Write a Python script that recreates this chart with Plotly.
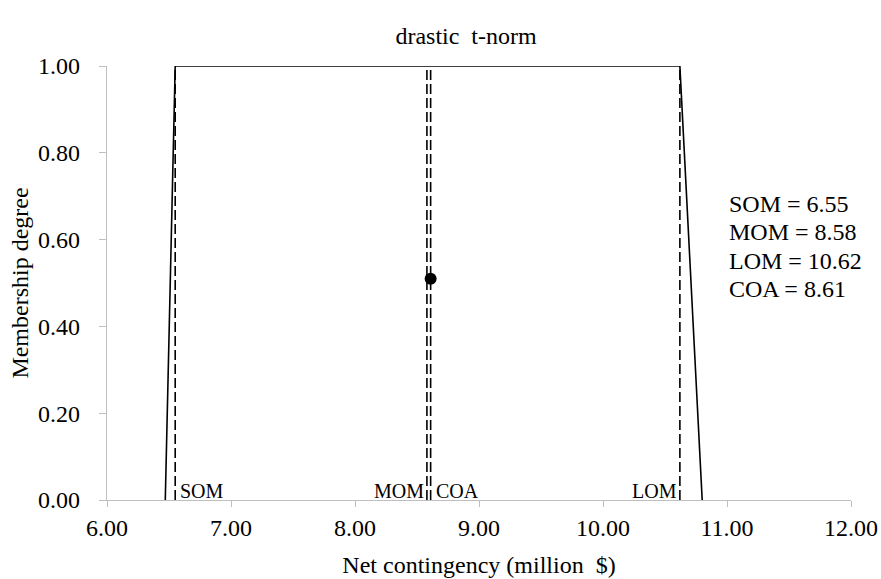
import plotly.graph_objects as go

# membership function (trapezoid) of the aggregated output
mf_x = [6.47, 6.55, 10.62, 10.80]
mf_y = [0.0, 1.0, 1.0, 0.0]

# defuzzified values
labels = ["SOM", "MOM", "COA", "LOM"]
values = [6.55, 8.58, 8.61, 10.62]
coa_point_y = 0.51

x_ticks = [6, 7, 8, 9, 10, 11, 12]
y_ticks = [0, 0.2, 0.4, 0.6, 0.8, 1.0]

FONT = "Times New Roman, Liberation Serif, serif"
AX = "#bfbfbf"

fig = go.Figure()
fig.add_trace(go.Scatter(x=mf_x, y=mf_y, mode="lines",
                         line=dict(color="black", width=1.6), showlegend=False,
                         hoverinfo="skip"))
for lab, v in zip(labels, values):
    fig.add_trace(go.Scatter(x=[v, v], y=[0, 1], mode="lines",
                             line=dict(color="black", width=1.6, dash="10px,4px"),
                             showlegend=False, hoverinfo="skip"))
fig.add_trace(go.Scatter(x=[values[2]], y=[coa_point_y], mode="markers",
                         marker=dict(color="black", size=12), showlegend=False))

anns = []
align = {"SOM": "left", "MOM": "right", "COA": "left", "LOM": "right"}
for lab, v in zip(labels, values):
    a = align[lab]
    anns.append(dict(x=v, y=0, xref="x", yref="y", text=lab, showarrow=False,
                     xanchor=a, yanchor="bottom", xshift=3 if a == "left" else -1,
                     yshift=-4, font=dict(family=FONT, size=20, color="black")))

side = [f"{lab} = {v:.2f}" for lab, v in zip(["SOM", "MOM", "LOM", "COA"],
                                             [values[0], values[1], values[3], values[2]])]
for i, t in enumerate(side):
    anns.append(dict(x=0.834, y=0.682 - i * 0.0655, xref="paper", yref="paper",
                     text=t, showarrow=False, xanchor="left", yanchor="middle",
                     font=dict(family=FONT, size=24, color="black")))

fig.update_layout(
    width=881, height=579,
    margin=dict(l=107, r=30, t=66, b=79, autoexpand=False),
    paper_bgcolor="white", plot_bgcolor="white",
    font=dict(family=FONT, size=24, color="black"),
    title=dict(text="drastic  t-norm", x=0.529, xanchor="center", y=0.938,
               yanchor="middle", font=dict(family=FONT, size=24, color="black")),
    annotations=anns,
    xaxis=dict(range=[6, 12], tickvals=x_ticks, ticktext=[f"{v:.2f}" for v in x_ticks],
               showgrid=False, zeroline=False, showline=True, linecolor=AX, linewidth=1.3,
               ticks="outside", tickcolor=AX, ticklen=6, tickwidth=1.3,
               ticklabeloverflow="allow", ticklabelstandoff=0,
               tickfont=dict(family=FONT, size=24),
               title=dict(text="Net contingency (million  $)", standoff=16,
                          font=dict(family=FONT, size=24))),
    yaxis=dict(range=[0, 1], tickvals=y_ticks, ticktext=[f"{v:.2f}" for v in y_ticks],
               showgrid=False, zeroline=False, showline=True, linecolor=AX, linewidth=1.3,
               ticks="outside", tickcolor=AX, ticklen=7, tickwidth=1.3,
               ticklabelstandoff=14,
               tickfont=dict(family=FONT, size=24),
               title=dict(text="Membership degree", standoff=2,
                          font=dict(family=FONT, size=24))),
)
fig.write_html("out.html", config={"displayModeBar": False},
               post_script="document.body.style.margin='0px';")
